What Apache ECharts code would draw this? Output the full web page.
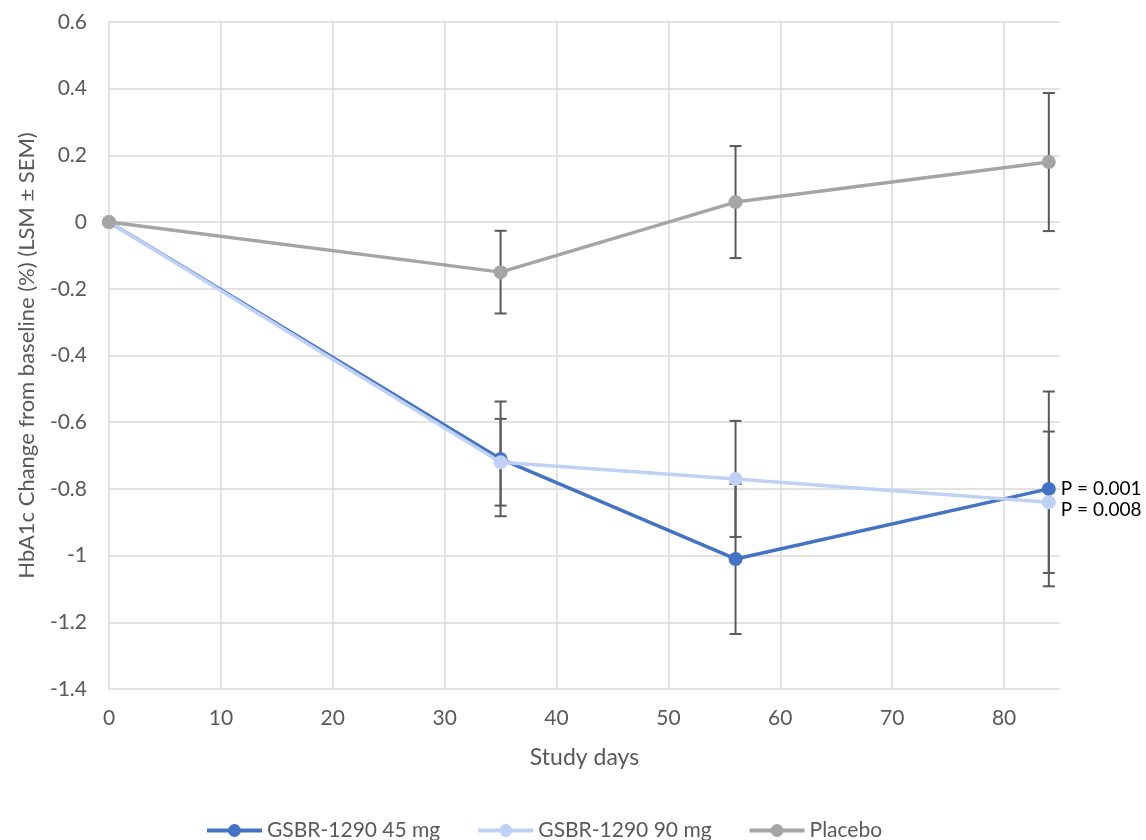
<!DOCTYPE html>
<html>
<head>
<meta charset="utf-8">
<script src="https://cdn.jsdelivr.net/npm/echarts@6/dist/echarts.min.js"></script>
<style>html,body{margin:0;padding:0;background:#fff}#chart{width:1146px;height:840px}</style>
</head>
<body>
<div id="chart"></div>
<script>
const days = [0, 35, 56, 84];
const seriesNames = ['GSBR-1290 45 mg', 'GSBR-1290 90 mg', 'Placebo'];
const mg45 = [0, -0.71, -1.01, -0.80];
const mg45Err = [0, 0.172, 0.225, 0.292];
const mg90 = [0, -0.72, -0.77, -0.84];
const mg90Err = [0, 0.13, 0.174, 0.212];
const placebo = [0, -0.15, 0.06, 0.18];
const placeboErr = [0, 0.124, 0.168, 0.207];
const pLabels = ['P = 0.001', 'P = 0.008'];
const xTicks = [0, 10, 20, 30, 40, 50, 60, 70, 80];

const FONT = 'Lato';
const colors = ['#4472C4', '#BFD1F4', '#A5A5A5'];
const values = [mg45, mg90, placebo];
const errs = [mg45Err, mg90Err, placeboErr];

function pts(v) { return days.map((d, i) => [d, v[i]]); }
function errPts(v, e) {
  const out = [];
  days.forEach((d, i) => { if (e[i] > 0) out.push([d, v[i], e[i]]); });
  return out;
}

const series = [];
values.forEach((v, k) => {
  series.push({
    type: 'custom',
    name: seriesNames[k] + ' err',
    data: errPts(v, errs[k]),
    z: 1,
    silent: true,
    renderItem: function (params, api) {
      const x = api.value(0), y = api.value(1), e = api.value(2);
      const top = api.coord([x, y + e]);
      const bot = api.coord([x, y - e]);
      const hw = 6;
      const style = { stroke: '#595959', lineWidth: 2 };
      return {
        type: 'group',
        children: [
          { type: 'line', shape: { x1: top[0], y1: top[1], x2: bot[0], y2: bot[1] }, style: style },
          { type: 'line', shape: { x1: top[0] - hw, y1: top[1], x2: top[0] + hw, y2: top[1] }, style: style },
          { type: 'line', shape: { x1: bot[0] - hw, y1: bot[1], x2: bot[0] + hw, y2: bot[1] }, style: style }
        ]
      };
    }
  });
});
values.forEach((v, k) => {
  const data = pts(v);
  if (k < 2) {
    data[data.length - 1] = {
      value: data[data.length - 1],
      label: {
        show: true, position: 'right', distance: 5,
        offset: k === 1 ? [0, 8] : [0, 0],
        formatter: pLabels[k], color: '#000', fontSize: 19, fontFamily: FONT
      }
    };
  }
  series.push({
    type: 'line',
    name: seriesNames[k],
    data: data,
    z: 3 + k,
    symbol: 'circle',
    symbolSize: 14,
    showAllSymbol: true,
    color: colors[k],
    lineStyle: { width: 3.5, color: colors[k] },
    itemStyle: { color: colors[k] },
    emphasis: { disabled: true },
    animation: false
  });
});

const splitColors = xTicks.map(() => '#D9D9D9').concat(['rgba(0,0,0,0)']);

const chart = echarts.init(document.getElementById('chart'));
chart.setOption({
  animation: false,
  textStyle: { fontFamily: FONT },
  grid: { left: 109, right: 86, top: 22, bottom: 151, containLabel: false },
  xAxis: {
    type: 'value', min: 0, max: 85, interval: 10,
    name: 'Study days', nameLocation: 'middle', nameGap: 57,
    nameTextStyle: { fontSize: 23, color: '#595959', fontFamily: FONT },
    axisLine: { show: false },
    axisTick: { show: false },
    axisLabel: {
      fontSize: 21, color: '#595959', margin: 19, fontFamily: FONT, showMaxLabel: false,
      formatter: function (v) { return xTicks.indexOf(v) >= 0 ? String(v) : ''; }
    },
    splitLine: { show: true, lineStyle: { color: splitColors, width: 1.5 } }
  },
  yAxis: {
    type: 'value', min: -1.4, max: 0.6, interval: 0.2,
    name: 'HbA1c Change from baseline (%) (LSM ± SEM)', nameLocation: 'middle', nameGap: 71,
    nameTextStyle: { fontSize: 22, color: '#595959', fontFamily: FONT },
    axisLine: { show: false },
    axisTick: { show: false },
    axisLabel: { fontSize: 21, color: '#595959', margin: 22, fontFamily: FONT },
    splitLine: { show: true, lineStyle: { color: '#D9D9D9', width: 1.5 } }
  },
  legend: {
    data: seriesNames,
    top: 815,
    left: 200,
    itemWidth: 55, itemHeight: 16, itemGap: 36,
    lineStyle: { width: 4 },
    textStyle: { fontSize: 21, color: '#595959', fontFamily: FONT },
    selectedMode: false
  },
  series: series
});
</script>
</body>
</html>
